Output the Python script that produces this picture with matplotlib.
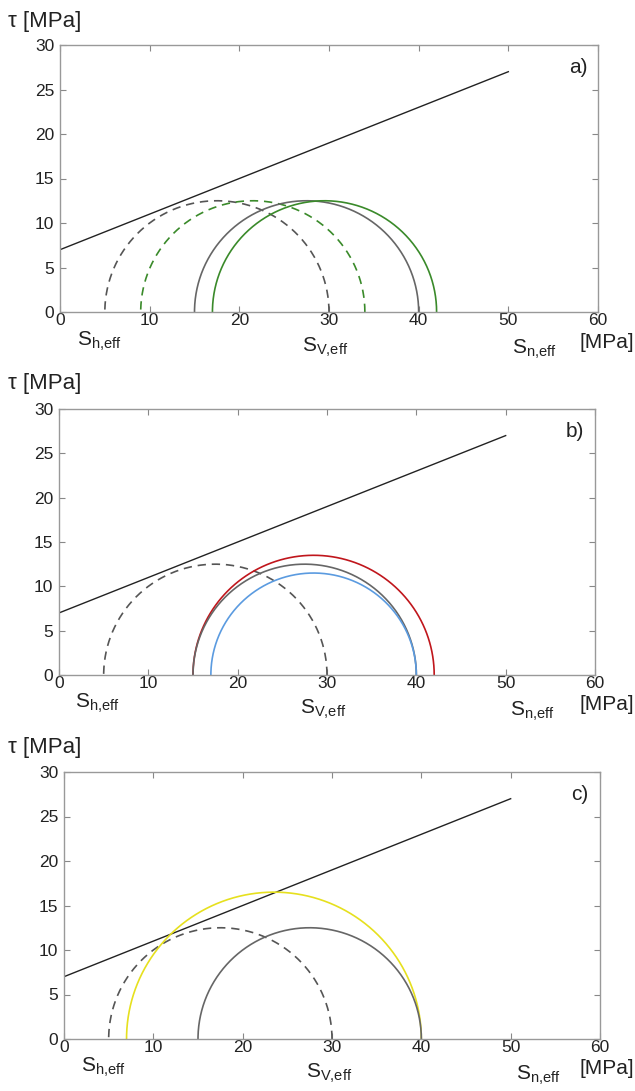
import numpy as np
import matplotlib
matplotlib.use("Agg")
import matplotlib.pyplot as plt

plt.rcParams['font.family'] = ['Liberation Sans', 'DejaVu Sans']
plt.rcParams['mathtext.fontset'] = 'custom'
plt.rcParams['mathtext.rm'] = 'Liberation Sans'
plt.rcParams['mathtext.it'] = 'Liberation Sans'

# Failure envelope
line_x = [0, 50]
line_y = [7, 27]

# Mohr circles: (sigma3, sigma1) per circle
a_s3 = [5, 9, 15, 17]
a_s1 = [30, 34, 40, 42]
a_col = ['#555555', '#3a8a2a', '#666666', '#3a8a2a']
a_ls = ['dashed', 'dashed', 'solid', 'solid']

b_s3 = [5, 15, 15, 17]
b_s1 = [30, 42, 40, 40]
b_col = ['#555555', '#c0161c', '#666666', '#5b9be0']
b_ls = ['dashed', 'solid', 'solid', 'solid']

c_s3 = [5, 7, 15]
c_s1 = [30, 40, 40]
c_col = ['#555555', '#e6e01e', '#666666']
c_ls = ['dashed', 'solid', 'solid']

xticks = [0, 10, 20, 30, 40, 50, 60]
yticks = [0, 5, 10, 15, 20, 25, 30]

W, H = 635, 1091
fig = plt.figure(figsize=(W / 100, H / 100), dpi=100)

def rect(l, r, t, b):
    return [l / W, 1 - b / H, (r - l) / W, (b - t) / H]

panels = [
    (rect(60, 598, 45, 312), a_s3, a_s1, a_col, a_ls, 'a)', 0, 0),
    (rect(59, 595, 409, 675), b_s3, b_s1, b_col, b_ls, 'b)', 362, -2),
    (rect(64, 600, 772, 1039), c_s3, c_s1, c_col, c_ls, 'c)', 726, 4),
]

theta = np.linspace(0, np.pi, 400)
for r_, s3, s1, cols, lss, lab, dy, dx in panels:
    ax = fig.add_axes(r_)
    ax.plot(line_x, line_y, color='#222222', lw=1.0)
    for lo, hi, c, ls in zip(s3, s1, cols, lss):
        cen = (lo + hi) / 2
        rad = (hi - lo) / 2
        kw = dict(dashes=(5, 3.5)) if ls == 'dashed' else {}
        ax.plot(cen + rad * np.cos(theta), rad * np.sin(theta), color=c,
                lw=1.2, **kw)
    ax.set_xlim(0, 60)
    ax.set_ylim(0, 30)
    ax.set_xticks(xticks)
    ax.set_yticks(yticks)
    ax.tick_params(direction='in', top=True, right=True, length=4,
                   width=0.8, color='#888888', labelsize=12.5,
                   labelcolor='#222222')
    ax.tick_params(axis='x', pad=1)
    ax.tick_params(axis='y', pad=4)
    for s in ax.spines.values():
        s.set_color('#999999')
        s.set_linewidth(1.0)
    ax.text(0.963, 0.915, lab, transform=ax.transAxes, fontsize=15,
            ha='center', va='center', color='#222222')
    # axis annotations (pixel positions)
    def ftext(x, y, s, size=15, **kw):
        fig.text(x / W, 1 - y / H, s, fontsize=size, color='#222222', **kw)
    ftext(8, 22 + dy, 'τ [MPa]', size=16, ha='left', va='center')
    ftext(77 + dx, 341 + dy, r'S$_{\mathrm{h{,}eff}}$', ha='left', va='center')
    ftext(302 + dx, 347 + dy, r'S$_{\mathrm{V{,}eff}}$', ha='left', va='center')
    ftext(512 + dx, 349 + dy, r'S$_{\mathrm{n{,}eff}}$', ha='left', va='center')
    ftext(634, 343 + dy, '[MPa]', ha='right', va='center')

fig.savefig('out.png', dpi=100)
